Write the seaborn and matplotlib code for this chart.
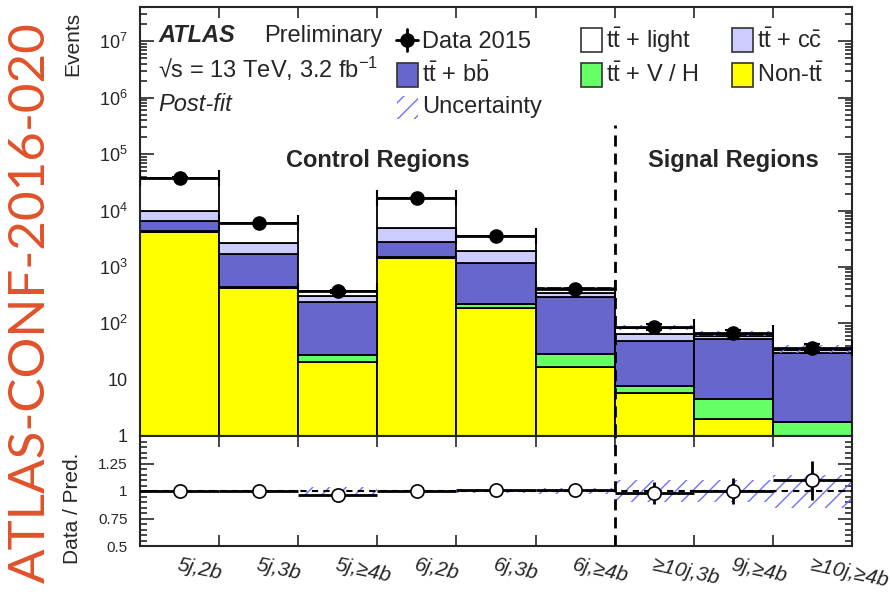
import numpy as np
import pandas as pd
import matplotlib
matplotlib.use("Agg")
import matplotlib.pyplot as plt
import seaborn as sns
from matplotlib.patches import Rectangle
from matplotlib.lines import Line2D
from matplotlib.ticker import FixedLocator, LogLocator, MultipleLocator, FuncFormatter, NullFormatter, FixedFormatter

# ---------------- data ----------------
regions = ["5j,2b", "5j,3b", "5j,≥4b", "6j,2b", "6j,3b", "6j,≥4b", "≥10j,3b", "9j,≥4b", "≥10j,≥4b"]
data_2015 = [38500, 6000, 370, 16700, 3500, 410, 86, 67, 36.5]
non_tt = [4200, 430, 20.7, 1455, 187, 16.9, 5.7, 2.0, 0.9]
tt_vh = [60, 12, 6.3, 25, 30, 11.5, 2.1, 2.5, 0.85]
tt_bb = [2140, 1260, 211, 1270, 970, 264, 41, 49, 28]
tt_cc = [3600, 990, 62, 2200, 690, 52, 15.4, 5.4, 3.4]
tt_light = [28500, 3300, 80, 11700, 1620, 76, 19, 6.7, 2.3]
rel_uncertainty = [0.01, 0.01, 0.04, 0.01, 0.015, 0.025, 0.10, 0.10, 0.15]
ratio = [1.0, 1.0, 0.965, 1.0, 1.005, 1.012, 0.982, 1.0, 1.096]
ratio_err = [0.005, 0.013, 0.05, 0.008, 0.017, 0.05, 0.10, 0.12, 0.175]
y_ticks = [1, 10, 1e2, 1e3, 1e4, 1e5, 1e6, 1e7]
ratio_ticks = [0.5, 0.75, 1.0, 1.25]
ratio_labels = ["0.5", "0.75", "1", "1.25"]

samples = ["Non-tt", "tt+V/H", "tt+bb", "tt+cc", "tt+light"]
sample_values = [non_tt, tt_vh, tt_bb, tt_cc, tt_light]
colors = {"Non-tt": "#FFFF00", "tt+V/H": "#66FF66", "tt+bb": "#6666CC",
          "tt+cc": "#CCCCFF", "tt+light": "#FFFFFF"}
hatch_color = "#7070FF"

# ---------------- style ----------------
sns.set_style("ticks")
plt.rcParams["font.family"] = ["Liberation Sans", "DejaVu Sans"]
plt.rcParams["mathtext.fontset"] = "custom"
plt.rcParams["mathtext.rm"] = "Liberation Sans"
plt.rcParams["mathtext.it"] = "Liberation Sans:italic"
plt.rcParams["mathtext.bf"] = "Liberation Sans:bold"
plt.rcParams["hatch.linewidth"] = 1.0
plt.rcParams["axes.linewidth"] = 1.5

W, H = 892, 596
fig = plt.figure(figsize=(W / 100, H / 100), dpi=100)
fx = lambda x: x / W
fy = lambda y: 1 - y / H

ax1 = fig.add_axes([fx(140), fy(436), (852 - 140) / W, (436 - 7) / H])
ax2 = fig.add_axes([fx(140), fy(546), (852 - 140) / W, (546 - 436) / H])

nb = len(regions)
centers = np.arange(nb) + 0.5
edges = np.arange(nb + 1)

# stacked histogram through seaborn
rows = []
for s, vals in zip(samples, sample_values):
    for i, v in enumerate(vals):
        rows.append({"bin": i + 0.5, "sample": s, "events": v})
df = pd.DataFrame(rows)
sns.histplot(df, x="bin", weights="events", hue="sample", hue_order=samples[::-1],
             multiple="stack", bins=[float(e) for e in edges], palette=colors, alpha=1,
             edgecolor="black", linewidth=1.3, legend=False, ax=ax1)
ax1.set_yscale("log")

total = np.sum(np.array(sample_values), axis=0)
unc = np.array(rel_uncertainty)
ax1.bar(centers, 2 * unc * total, bottom=total * (1 - unc), width=1.0, fill=False,
        hatch="//", edgecolor=hatch_color, linewidth=0, zorder=3)

d = np.array(data_2015)
ax1.errorbar(centers, d, xerr=0.5, yerr=np.sqrt(d), fmt="o", color="black", ms=9.5,
             elinewidth=2, capsize=5.5, capthick=1.5, zorder=5)

ax1.plot([6, 6], [0.5, 3.3e5], ls=(0, (4, 2.5)), color="black", lw=2, zorder=6)

ax1.set_xlim(0, nb)
ax1.set_ylim(1, 10 ** 7.61)
ax1.set_xlabel("")
ax1.set_ylabel("")
ax1.xaxis.set_major_locator(FixedLocator(edges[1:-1]))
ax1.xaxis.set_major_formatter(NullFormatter())
ax1.yaxis.set_major_locator(FixedLocator(y_ticks))
ax1.yaxis.set_minor_locator(LogLocator(base=10, subs=np.arange(2, 10), numticks=20))
ax1.yaxis.set_minor_formatter(NullFormatter())


def logfmt(v, p):
    if np.isclose(v, 1):
        return "1"
    if np.isclose(v, 10):
        return "10"
    return r"$\mathdefault{10^{%d}}$" % int(round(np.log10(v)))


ax1.yaxis.set_major_formatter(FuncFormatter(logfmt))
ax1.tick_params(which="both", direction="in", top=True, right=True, width=1.2)
ax1.tick_params(axis="y", which="major", length=10, labelsize=13, pad=9)
ax1.tick_params(axis="y", which="minor", length=5)
ax1.tick_params(axis="x", which="major", length=8)

# ---------------- ratio panel ----------------
ax2.bar(centers, 2 * unc, bottom=1 - unc, width=1.0, fill=False, hatch="//",
        edgecolor=hatch_color, linewidth=0, zorder=2)
ax2.axhline(1, ls=(0, (3, 2.5)), color="black", lw=1.5, zorder=3)
ax2.errorbar(centers, ratio, xerr=0.5, yerr=ratio_err, fmt="o", mfc="white", mec="black",
             mew=1.2, ms=9.5, ecolor="black", elinewidth=2, capsize=0, zorder=5)
ax2.axvline(6, ls=(0, (4, 2.5)), color="black", lw=2, zorder=6)
ax2.set_xlim(0, nb)
ax2.set_ylim(0.5, 1.5)
ax2.yaxis.set_major_locator(FixedLocator(ratio_ticks))
ax2.yaxis.set_major_formatter(FixedFormatter(ratio_labels))
ax2.yaxis.set_minor_locator(MultipleLocator(0.05))
ax2.xaxis.set_major_locator(FixedLocator(edges[1:-1]))
ax2.xaxis.set_major_formatter(NullFormatter())
ax2.set_xticks(centers, minor=True)
ax2.set_xticklabels(regions, minor=True, rotation=-12, ha="left", rotation_mode="anchor",
                    fontstyle="italic", fontsize=15)
ax2.tick_params(which="both", direction="in", top=True, right=True, width=1.2)
ax2.tick_params(axis="y", which="major", length=10, labelsize=11, pad=9)
ax2.tick_params(axis="y", which="minor", length=5)
ax2.tick_params(axis="x", which="major", length=8)
ax2.tick_params(axis="x", which="minor", length=0, top=False, pad=7)

# ---------------- labels & texts ----------------
fig.text(fx(73), fy(12), "Events", rotation=90, ha="center", va="top", fontsize=15)
fig.text(fx(73), fy(508), "Data / Pred.", rotation=90, ha="center", va="center", fontsize=15)
fig.text(fx(31), fy(303), "ATLAS-CONF-2016-020", rotation=90, ha="center", va="center",
         fontsize=36.8, color="#E0522A", family=["Lato", "DejaVu Sans"])

fig.text(fx(158), fy(42), "ATLAS", fontsize=17, fontweight="bold", fontstyle="italic", va="baseline")
fig.text(fx(264), fy(42), "Preliminary", fontsize=17, va="baseline")
fig.text(fx(158), fy(78), "√s = 13 TeV, 3.2 fb$^{-1}$", fontsize=17, va="baseline")
fig.text(fx(158), fy(111), "Post-fit", fontsize=17, fontstyle="italic", va="baseline")

fig.text(fx(378), fy(160), "Control Regions", fontsize=17, fontweight="bold", ha="center", va="center")
fig.text(fx(733), fy(160), "Signal Regions", fontsize=17, fontweight="bold", ha="center", va="center")

# legend (drawn manually in figure coordinates)
tt = r"$\mathrm{t\bar{t}}$"
fig.add_artist(Line2D([fx(396), fx(418)], [fy(40), fy(40)], color="black", lw=2, transform=fig.transFigure))
fig.add_artist(Line2D([fx(407), fx(407)], [fy(29), fy(51)], color="black", lw=2, transform=fig.transFigure))
fig.add_artist(Line2D([fx(407)], [fy(40)], marker="o", ms=9.5, color="black", transform=fig.transFigure))
fig.text(fx(422), fy(48), "Data 2015", fontsize=17, va="baseline")


def box(x0, y0, color):
    fig.add_artist(Rectangle((fx(x0), fy(y0 + 24)), 21 / W, 24 / H, transform=fig.transFigure,
                             facecolor=color, edgecolor="#333333", lw=1.2))


box(397, 63, colors["tt+bb"])
fig.text(fx(422), fy(82), tt + r" + $\mathrm{b\bar{b}}$", fontsize=17, va="baseline")
fig.add_artist(Rectangle((fx(397), fy(119)), 21 / W, 23 / H, transform=fig.transFigure,
                         fill=False, hatch="//", edgecolor=hatch_color, lw=0))
fig.text(fx(422), fy(113), "Uncertainty", fontsize=17, va="baseline")

box(581, 28, colors["tt+light"])
fig.text(fx(606), fy(48), tt + " + light", fontsize=17, va="baseline")
box(581, 63, colors["tt+V/H"])
fig.text(fx(606), fy(82), tt + " + V / H", fontsize=17, va="baseline")
box(732, 28, colors["tt+cc"])
fig.text(fx(757), fy(48), tt + r" + $\mathrm{c\bar{c}}$", fontsize=17, va="baseline")
box(732, 63, colors["Non-tt"])
fig.text(fx(757), fy(82), "Non-" + tt, fontsize=17, va="baseline")

fig.savefig("out.png", dpi=100)
